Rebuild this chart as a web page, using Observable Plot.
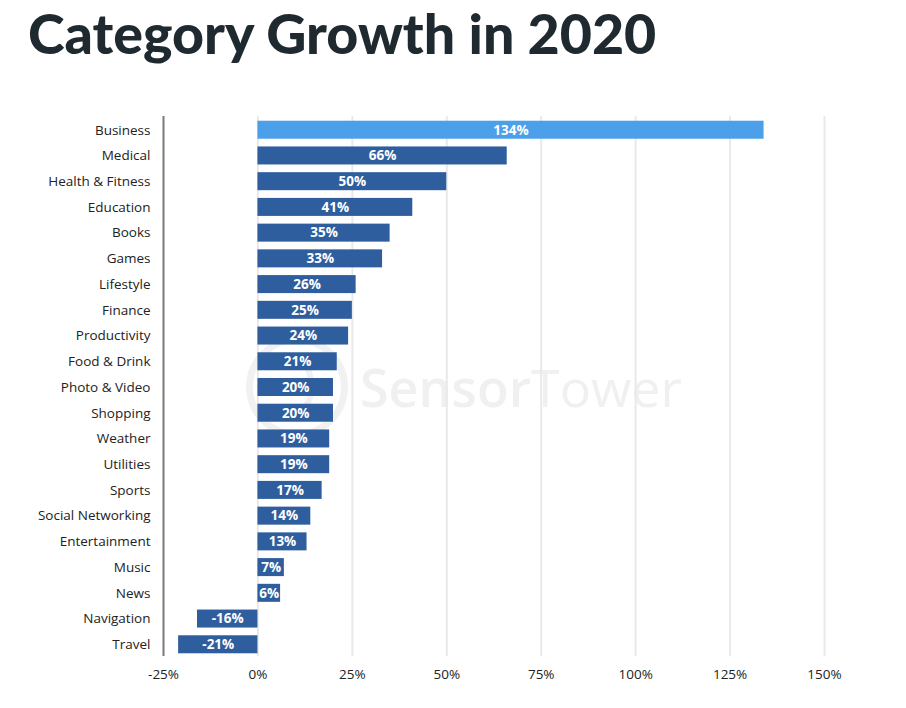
<!DOCTYPE html>
<html>
<head>
<meta charset="utf-8">
<script src="https://cdn.jsdelivr.net/npm/d3@7"></script>
<script src="https://cdn.jsdelivr.net/npm/@observablehq/plot@0.6"></script>
<style>
  html, body { margin: 0; padding: 0; background: #fff; width: 906px; height: 708px; overflow: hidden; }
  #wrap { position: relative; width: 906px; height: 708px; }
  #title { position: absolute; left: 28px; top: 0px; margin: 0; font-family: Lato, sans-serif; font-weight: 900; font-size: 55.5px; line-height: 66px; color: #1f2a30; white-space: nowrap; }
  #wm { position: absolute; left: 0; top: 0; width: 906px; height: 708px; z-index: 0; }
  #ring { position: absolute; left: 246px; top: 336px; width: 88px; height: 88px; border: 7px solid #f1f1f1; border-radius: 50%; }
  #ringin { position: absolute; left: 278px; top: 352px; width: 30px; height: 56px; border: 6px solid #f1f1f1; border-left: none; border-radius: 0 30px 30px 0; }
  #wmtext { position: absolute; left: 360px; top: 352px; font-family: "Open Sans", sans-serif; font-size: 52px; line-height: 70px; color: #f0f0f0; white-space: nowrap; }
  #chart { position: absolute; left: 0; top: 80px; z-index: 1; }
</style>
</head>
<body>
<div id="wrap">
  <div id="title">Category Growth in 2020</div>
  <div id="wm">
    <div id="ring"></div>
    <div id="ringin"></div>
    <div id="wmtext"><span style="font-weight:600">Sensor</span><span style="font-weight:400">Tower</span></div>
  </div>
  <div id="chart"></div>
</div>
<script>
const categories = ["Business", "Medical", "Health & Fitness", "Education", "Books", "Games", "Lifestyle", "Finance", "Productivity", "Food & Drink", "Photo & Video", "Shopping", "Weather", "Utilities", "Sports", "Social Networking", "Entertainment", "Music", "News", "Navigation", "Travel"];
const growth = [134, 66, 50, 41, 35, 33, 26, 25, 24, 21, 20, 20, 19, 19, 17, 14, 13, 7, 6, -16, -21];
const xTicks = [-25, 0, 25, 50, 75, 100, 125, 150];
const highlightCategory = "Business";

const data = categories.map((c, i) => ({category: c, growth: growth[i]}));
const fmt = d => d + "%";

const chart = Plot.plot({
  width: 906,
  height: 628,
  marginLeft: 163,
  marginRight: 82,
  marginTop: 33,
  marginBottom: 47,
  style: {fontFamily: "'Open Sans', sans-serif", fontSize: "13.5px", color: "#222", background: "transparent"},
  x: {domain: [-25, 150], label: null},
  y: {domain: categories, padding: 0.3, round: false, label: null},
  marks: [
    Plot.ruleX(xTicks.filter(t => t !== -25), {stroke: "#e9e9e9", strokeWidth: 2, insetTop: 3, insetBottom: 5}),
    Plot.barX(data, {x: "growth", y: "category", fill: d => d.category === highlightCategory ? "#4c9fe9" : "#2e5e9e"}),
    Plot.text(data, {x: d => d.growth / 2, y: "category", text: d => fmt(d.growth), fill: "white", fontWeight: "bold", fontSize: 13.5}),
    Plot.ruleX([-25], {stroke: "#7a7a7a", strokeWidth: 2, insetTop: 3, insetBottom: 5}),
    Plot.axisX({ticks: xTicks, tickFormat: fmt, tickSize: 0, tickPadding: 8, label: null}),
    Plot.axisY({tickSize: 0, tickPadding: 13, label: null})
  ]
});
document.getElementById("chart").appendChild(chart);
</script>
</body>
</html>
